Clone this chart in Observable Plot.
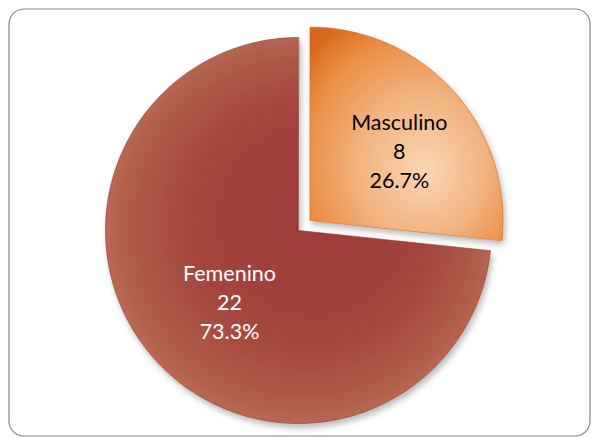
<!DOCTYPE html>
<html>
<head>
<meta charset="utf-8">
<script src="https://cdn.jsdelivr.net/npm/d3@7"></script>
<script src="https://cdn.jsdelivr.net/npm/@observablehq/plot@0.6"></script>
<style>
  html, body { margin: 0; padding: 0; background: #fff; }
  #chart svg { display: block; }
</style>
</head>
<body>
<div id="chart"></div>
<script>
// ---- data ----
const categories = ["Masculino", "Femenino"];
const counts = [8, 22];
const percentLabels = ["26.7%", "73.3%"];

// ---- geometry derived from data ----
const EXPLODE = [0.08, 0];            // radial offset (fraction of radius)
const LABEL_R = [0.59, 0.51];         // label distance from slice centre
const LABEL_SHIFT = [3.7, -3.5];      // degrees, label angle tweak
const gradIds = ["gradMasc", "gradFem"];
const strokes = ["#C8641E", "#8E3A32"];
const textFill = ["#000000", "#ffffff"];

const arcs = d3.pie().sort(null)(counts);
const slicePoints = arcs.map((a, i) => {
  const mid = (a.startAngle + a.endAngle) / 2;
  const ox = EXPLODE[i] * Math.sin(mid), oy = EXPLODE[i] * Math.cos(mid);
  const pts = [{cat: categories[i], x: ox, y: oy}];
  const n = 120;
  for (let k = 0; k <= n; k++) {
    const t = a.startAngle + (a.endAngle - a.startAngle) * k / n;
    pts.push({cat: categories[i], x: ox + Math.sin(t), y: oy + Math.cos(t)});
  }
  return pts;
});
const labels = arcs.map((a, i) => {
  const mid = (a.startAngle + a.endAngle) / 2;
  const ox = EXPLODE[i] * Math.sin(mid), oy = EXPLODE[i] * Math.cos(mid);
  const la = mid + LABEL_SHIFT[i] * Math.PI / 180;
  return {
    cat: categories[i],
    x: ox + LABEL_R[i] * Math.sin(la),
    y: oy + LABEL_R[i] * Math.cos(la),
    text: `${categories[i]}\n${counts[i]}\n${percentLabels[i]}`,
    fill: textFill[i]
  };
});

// gradients / filter defs as a render mark
function defsMark() {
  const defs = d3.create("svg:defs");
  const gm = defs.append("radialGradient").attr("id", "gradMasc")
    .attr("cx", "0.55").attr("cy", "0.62").attr("r", "0.75").attr("fx", "0.6").attr("fy", "0.68");
  [["0", "#FAD6B4"], ["0.45", "#F2B27E"], ["0.8", "#EA8C42"], ["1", "#D9681A"]]
    .forEach(([o, c]) => gm.append("stop").attr("offset", o).attr("stop-color", c));
  const gf = defs.append("radialGradient").attr("id", "gradFem")
    .attr("cx", "0.5").attr("cy", "0.5").attr("r", "0.55").attr("fx", "0.58").attr("fy", "0.45");
  [["0", "#9C3A3A"], ["0.55", "#A2453D"], ["0.85", "#B05E4A"], ["0.96", "#BC6F58"], ["1", "#A3503F"]]
    .forEach(([o, c]) => gf.append("stop").attr("offset", o).attr("stop-color", c));
  const f = defs.append("filter").attr("id", "shadow")
    .attr("x", "-10%").attr("y", "-10%").attr("width", "130%").attr("height", "130%");
  f.append("feDropShadow").attr("dx", 2).attr("dy", 4).attr("stdDeviation", 3)
    .attr("flood-color", "#000").attr("flood-opacity", 0.28);
  return defs.node();
}

const chart = Plot.plot({
  width: 592,
  height: 438,
  marginTop: 8,
  marginLeft: 8,
  marginRight: 2,
  marginBottom: 2,
  style: {background: "#fff", fontFamily: "Lato, 'Open Sans', sans-serif"},
  x: {domain: [-1, 1], range: [105, 491], axis: null},
  y: {domain: [-1, 1], range: [423, 37], axis: null},
  marks: [
    defsMark,
    Plot.frame({stroke: "#868686", strokeWidth: 1.2, rx: 15, inset: 0.5}),
    ...slicePoints.map((pts, i) =>
      Plot.line(pts, {
        x: "x", y: "y",
        curve: "linear-closed",
        fill: `url(#${gradIds[i]})`,
        stroke: strokes[i],
        strokeWidth: 1,
        strokeOpacity: 0.6
      })
    ),
    Plot.text(labels, {
      x: "x", y: "y", text: "text", fill: "fill",
      fontSize: 21.5, lineHeight: 1.36, textAnchor: "middle"
    })
  ]
});

// apply shadow to slices
d3.select(chart).selectAll("path").filter(function() {
  const f = this.getAttribute("fill") || (this.parentNode && this.parentNode.getAttribute("fill"));
  return f && f.startsWith("url(");
}).attr("filter", "url(#shadow)");

document.getElementById("chart").appendChild(chart);
</script>
</body>
</html>
